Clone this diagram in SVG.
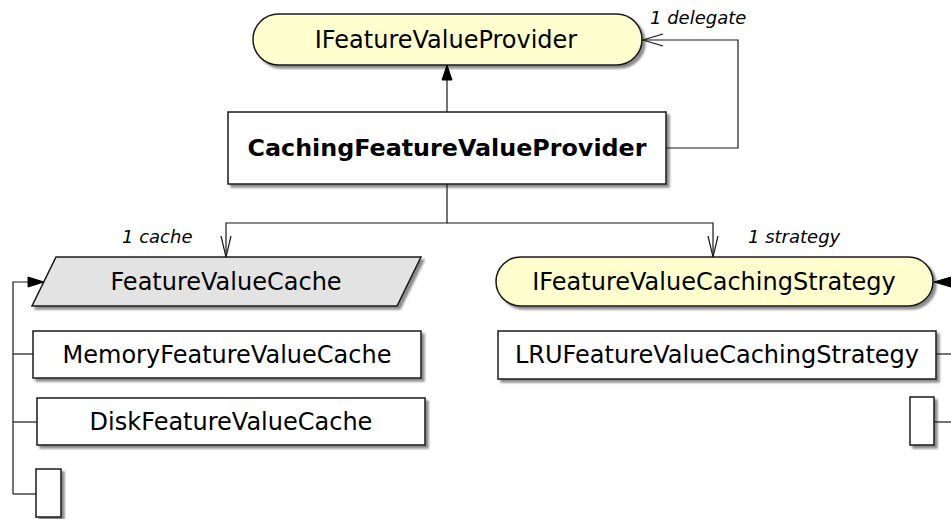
<svg xmlns="http://www.w3.org/2000/svg" width="951" height="519" viewBox="0 0 951 519">
  <defs>
    <filter id="shadow" x="-10%" y="-10%" width="130%" height="140%">
      <feDropShadow dx="3" dy="3" stdDeviation="1.2" flood-color="#000" flood-opacity="0.45"/>
    </filter>
  </defs>
  <style>
    .node { stroke: #181818; stroke-width: 1.5; filter: url(#shadow); }
    .iface { fill: #FEFECE; }
    .cls { fill: #FFFFFF; }
    .abs { fill: #E3E3E3; }
    .label { font-family: "DejaVu Sans", sans-serif; font-size: 24px; fill: #000; text-anchor: middle; }
    .bold { font-weight: bold; font-size: 23.8px; }
    .role { font-family: "DejaVu Sans", sans-serif; font-size: 18px; font-style: italic; fill: #000; }
    .edge { fill: none; stroke: #181818; stroke-width: 1.2; }
    .head { fill: #000; stroke: #000; stroke-width: 1; }
  </style>

  <!-- interface at the top -->
  <g id="IFeatureValueProvider">
    <rect class="node iface" x="253" y="14" width="389" height="51" rx="25.5" ry="25.5"/>
    <text class="label" x="446" y="48">IFeatureValueProvider</text>
  </g>

  <!-- implementing class -->
  <g id="CachingFeatureValueProvider">
    <rect class="node cls" x="228" y="112" width="438" height="72"/>
    <text class="label bold" x="447" y="156">CachingFeatureValueProvider</text>
  </g>

  <!-- abstract cache -->
  <g id="FeatureValueCache">
    <polygon class="node abs" points="56,257 421,257 397,306 32,306"/>
    <text class="label" x="226" y="290">FeatureValueCache</text>
  </g>

  <g id="MemoryFeatureValueCache">
    <rect class="node cls" x="33" y="331" width="388" height="47"/>
    <text class="label" x="227" y="363">MemoryFeatureValueCache</text>
  </g>

  <g id="DiskFeatureValueCache">
    <rect class="node cls" x="37" y="398" width="388" height="47"/>
    <text class="label" x="231" y="430">DiskFeatureValueCache</text>
  </g>

  <g id="CacheStub">
    <rect class="node cls" x="36" y="469" width="25" height="48"/>
  </g>

  <!-- caching strategy interface -->
  <g id="IFeatureValueCachingStrategy">
    <rect class="node iface" x="496" y="257" width="437" height="49" rx="24.5" ry="24.5"/>
    <text class="label" x="714" y="290">IFeatureValueCachingStrategy</text>
  </g>

  <g id="LRUFeatureValueCachingStrategy">
    <rect class="node cls" x="498" y="331" width="438" height="48"/>
    <text class="label" x="717" y="363">LRUFeatureValueCachingStrategy</text>
  </g>

  <g id="StrategyStub">
    <rect class="node cls" x="910" y="397" width="24" height="48"/>
  </g>

  <!-- connectors -->
  <g id="connectors">
    <!-- realisation: CachingFeatureValueProvider -> IFeatureValueProvider -->
    <line class="edge" x1="447" y1="112" x2="447" y2="78"/>
    <polygon class="head" points="447,65 442,80 452,80"/>

    <!-- delegate association -->
    <polyline class="edge" points="666,148 738,148 738,40 643,40"/>
    <polyline class="edge" points="663,34 643,40 663,46"/>
    <text class="role" x="650" y="24">1 delegate</text>

    <!-- cache and strategy associations -->
    <polyline class="edge" points="447,184 447,223 226,223 226,257"/>
    <polyline class="edge" points="447,223 713,223 713,257"/>
    <polyline class="edge" points="221,236 226,257 231,236"/>
    <polyline class="edge" points="708,236 713,257 718,236"/>
    <text class="role" x="122" y="243">1 cache</text>
    <text class="role" x="748" y="243">1 strategy</text>

    <!-- cache implementations -->
    <polyline class="edge" points="13,494 13,282 30,282"/>
    <polygon class="head" points="44,282 28,277 28,287"/>
    <line class="edge" x1="13" y1="354" x2="33" y2="354"/>
    <line class="edge" x1="13" y1="422" x2="37" y2="422"/>
    <line class="edge" x1="13" y1="494" x2="36" y2="494"/>

    <!-- strategy implementations -->
    <polygon class="head" points="934,282 951,277 951,287"/>
    <line class="edge" x1="936" y1="354" x2="951" y2="354"/>
    <line class="edge" x1="934" y1="422" x2="951" y2="422"/>
  </g>
</svg>
